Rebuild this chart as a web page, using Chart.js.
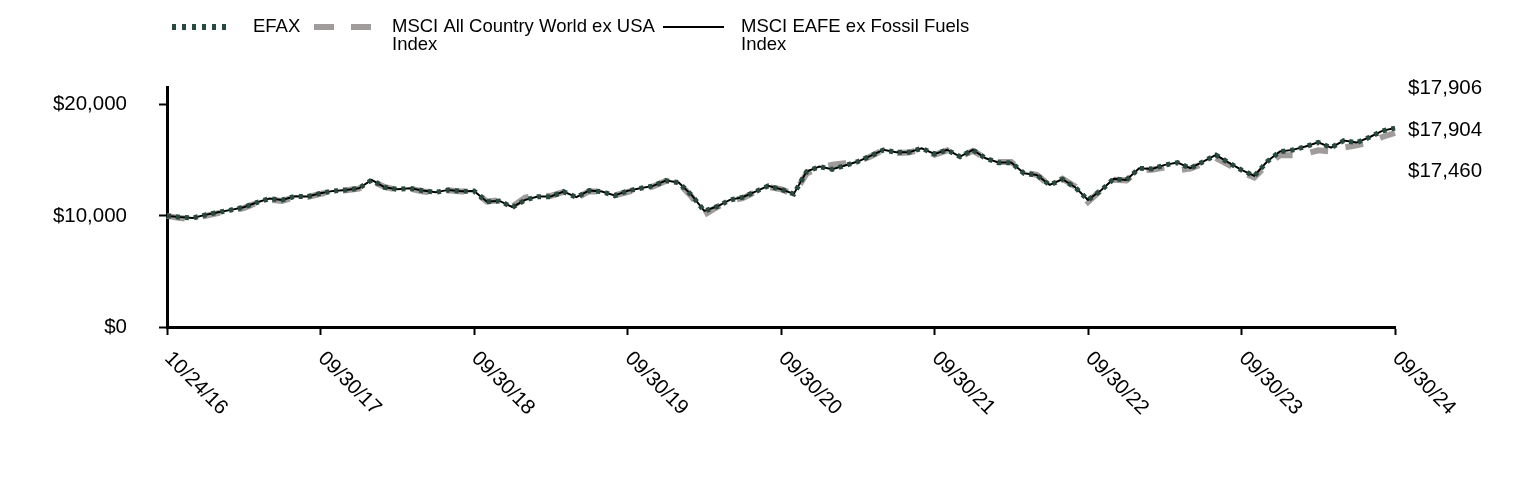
<!DOCTYPE html>
<html>
<head>
<meta charset="utf-8">
<script src="https://cdn.jsdelivr.net/npm/chart.js@4.4.0/dist/chart.umd.min.js"></script>
<style>
  body { margin: 0; background: #fff; }
  #growthChart { display: block; }
</style>
</head>
<body>
<canvas id="growthChart" width="1524" height="480"></canvas>
<script>
const dates = [
  "10/24/16", "10/31/16", "11/30/16", "12/31/16",
  "01/31/17", "02/28/17", "03/31/17", "04/30/17", "05/31/17", "06/30/17", "07/31/17", "08/31/17", "09/30/17", "10/31/17", "11/30/17", "12/31/17",
  "01/31/18", "02/28/18", "03/31/18", "04/30/18", "05/31/18", "06/30/18", "07/31/18", "08/31/18", "09/30/18", "10/31/18", "11/30/18", "12/31/18",
  "01/31/19", "02/28/19", "03/31/19", "04/30/19", "05/31/19", "06/30/19", "07/31/19", "08/31/19", "09/30/19", "10/31/19", "11/30/19", "12/31/19",
  "01/31/20", "02/29/20", "03/31/20", "04/30/20", "05/31/20", "06/30/20", "07/31/20", "08/31/20", "09/30/20", "10/31/20", "11/30/20", "12/31/20",
  "01/31/21", "02/28/21", "03/31/21", "04/30/21", "05/31/21", "06/30/21", "07/31/21", "08/31/21", "09/30/21", "10/31/21", "11/30/21", "12/31/21",
  "01/31/22", "02/28/22", "03/31/22", "04/30/22", "05/31/22", "06/30/22", "07/31/22", "08/31/22", "09/30/22", "10/31/22", "11/30/22", "12/31/22",
  "01/31/23", "02/28/23", "03/31/23", "04/30/23", "05/31/23", "06/30/23", "07/31/23", "08/31/23", "09/30/23", "10/31/23", "11/30/23", "12/31/23",
  "01/31/24", "02/29/24", "03/31/24", "04/30/24", "05/31/24", "06/30/24", "07/31/24", "08/31/24", "09/30/24"
];

const efax = [
  10000, 9880, 9810, 10080, 10320, 10530, 10770, 11200, 11550, 11430, 11760, 11730, 12030,
  12240, 12330, 12480, 13230, 12570, 12390, 12480, 12270, 12120, 12330, 12210, 12240,
  11280, 11340, 10770, 11430, 11730, 11730, 12180, 11670, 12270, 12180, 11820, 12240,
  12480, 12690, 13170, 12990, 11880, 10440, 10830, 11430, 11670, 12180, 12690, 12390,
  11970, 13980, 14430, 14190, 14520, 14880, 15390, 15930, 15720, 15720, 16080, 15570,
  15930, 15330, 15930, 15180, 14790, 14790, 13830, 13680, 12780, 13290, 12570, 11430,
  12270, 13320, 13230, 14280, 14220, 14580, 14790, 14280, 14880, 15480, 14790, 14130,
  13590, 14880, 15780, 15930, 16230, 16620, 16140, 16770, 16590, 17070, 17640, 17904
];

const acwiExUsa = [
  10000, 9800, 9700, 10000, 10250, 10450, 10700, 11150, 11450, 11350, 11700, 11700, 11980,
  12200, 12300, 12450, 13150, 12600, 12350, 12450, 12200, 12100, 12300, 12200, 12200,
  11300, 11400, 10850, 11650, 11850, 11800, 12150, 11600, 12200, 12200, 11850, 12150,
  12400, 12650, 13150, 12950, 11750, 10100, 10800, 11350, 11600, 12150, 12600, 12400,
  11950, 13800, 14350, 14600, 14750, 14900, 15350, 15950, 15650, 15700, 16000, 15500,
  15900, 15300, 15850, 15200, 14850, 14850, 13900, 13700, 12750, 13350, 12650, 11250,
  12300, 13250, 13200, 14100, 14150, 14350, 14100, 14250, 14700, 15200, 14600, 13950,
  13450, 14600, 15450, 15450, 15600, 15900, 15800, 16150, 16350, 16600, 17100, 17460
];

const eafeExFossil = [
  10000, 9890, 9820, 10090, 10330, 10540, 10780, 11210, 11560, 11440, 11770, 11740, 12040,
  12250, 12340, 12490, 13240, 12580, 12400, 12490, 12280, 12130, 12340, 12220, 12250,
  11290, 11350, 10780, 11440, 11740, 11740, 12190, 11680, 12280, 12190, 11830, 12250,
  12490, 12700, 13180, 13000, 11890, 10450, 10840, 11440, 11680, 12190, 12700, 12400,
  11980, 13990, 14440, 14200, 14530, 14890, 15400, 15940, 15730, 15730, 16090, 15580,
  15940, 15340, 15940, 15190, 14800, 14800, 13840, 13690, 12790, 13300, 12580, 11440,
  12280, 13330, 13240, 14290, 14230, 14590, 14800, 14290, 14890, 15490, 14800, 14140,
  13600, 14890, 15790, 15940, 16240, 16630, 16150, 16780, 16600, 17080, 17650, 17906
];

const seriesNames = ["EFAX", "MSCI All Country World ex USA Index", "MSCI EAFE ex Fossil Fuels Index"];
const yTicks = [0, 10000, 20000];

const FONT = "'Liberation Sans', Arial, sans-serif";
const GREEN = "#284a3c";
const GRAY = "#a19c9c";

Chart.defaults.font.family = FONT;
Chart.defaults.color = "#000";

const money = (v) => "$" + Math.round(v).toLocaleString("en-US");

// legend drawn by hand so the long names wrap like the original
const legendPlugin = {
  id: "customLegend",
  afterDraw(chart) {
    const ctx = chart.ctx;
    ctx.save();
    ctx.font = "18.5px " + FONT;
    ctx.fillStyle = "#000";
    ctx.textBaseline = "middle";
    ctx.lineCap = "butt";

    const items = [
      { x1: 172, x2: 230, tx: 253, color: GREEN, width: 6, dash: [4, 6], lines: ["EFAX"] },
      { x1: 314, x2: 372, tx: 392, color: GRAY, width: 6, dash: [20, 17], lines: ["MSCI All Country World ex USA", "Index"] },
      { x1: 663, x2: 724, tx: 741, color: "#000", width: 2, dash: [], lines: ["MSCI EAFE ex Fossil Fuels", "Index"] },
    ];
    items.forEach((it) => {
      ctx.beginPath();
      ctx.setLineDash(it.dash);
      ctx.strokeStyle = it.color;
      ctx.lineWidth = it.width;
      ctx.moveTo(it.x1, 27);
      ctx.lineTo(it.x2, 27);
      ctx.stroke();
      it.lines.forEach((t, k) => ctx.fillText(t, it.tx, 27 + k * 18));
    });
    ctx.restore();
  },
};

// x labels run downward to the right from each tick, ending values sit to the right
const labelsPlugin = {
  id: "extraLabels",
  afterDraw(chart) {
    const ctx = chart.ctx;
    const xs = chart.scales.x;
    const ys = chart.scales.y;
    ctx.save();
    ctx.font = "20.5px " + FONT;
    ctx.fillStyle = "#000";
    ctx.textAlign = "left";
    ctx.textBaseline = "top";
    dates.forEach((d, i) => {
      if (i % 12 !== 0) return;
      const x = xs.getPixelForValue(i);
      ctx.save();
      ctx.translate(x + 8, xs.top + 21);
      ctx.rotate(Math.PI / 4);
      ctx.fillText(d, 0, 0);
      ctx.restore();
    });

    const ends = chart.data.datasets.map((ds) => ds.data[ds.data.length - 1]).sort((a, b) => b - a);
    const mid = ys.getPixelForValue(ends[1]) + 2;
    ctx.textBaseline = "middle";
    ends.forEach((v, k) => ctx.fillText(money(v), 1408, mid + (k - 1) * 41.5));
    ctx.restore();
  },
};

const ctx = document.getElementById("growthChart").getContext("2d");
new Chart(ctx, {
  type: "line",
  data: {
    labels: dates,
    datasets: [
      {
        label: seriesNames[0],
        data: efax,
        borderColor: GREEN,
        borderWidth: 5,
        borderDash: [4, 5],
        order: 0,
      },
      {
        label: seriesNames[2],
        data: eafeExFossil,
        borderColor: "#000",
        borderWidth: 2,
        order: 1,
      },
      {
        label: seriesNames[1],
        data: acwiExUsa,
        borderColor: GRAY,
        borderWidth: 6,
        borderDash: [18, 18],
        order: 2,
      },
    ],
  },
  options: {
    responsive: false,
    animation: false,
    events: [],
    layout: { padding: { top: 87, right: 129, left: 0, bottom: 0 } },
    elements: {
      point: { radius: 0 },
      line: { tension: 0, borderCapStyle: "butt", fill: false },
    },
    plugins: {
      legend: { display: false },
      tooltip: { enabled: false },
    },
    scales: {
      x: {
        type: "category",
        offset: false,
        border: { color: "#000", width: 3 },
        grid: {
          drawOnChartArea: false,
          drawTicks: true,
          tickLength: 8,
          tickWidth: 2,
          tickColor: (c) => (c.index % 12 === 0 ? "#000" : "rgba(0,0,0,0)"),
        },
        ticks: { display: false, autoSkip: false },
        afterFit: (scale) => { scale.height = 153; },
      },
      y: {
        min: 0,
        max: 21600,
        border: { color: "#000", width: 3 },
        grid: {
          drawOnChartArea: false,
          drawTicks: true,
          tickLength: 8,
          tickWidth: 2,
          tickColor: "#000",
        },
        ticks: {
          stepSize: 10000,
          padding: 32,
          font: { size: 20.5 },
          color: "#000",
          callback: (v) => money(v),
        },
        afterBuildTicks: (scale) => {
          scale.ticks = yTicks.map((v) => ({ value: v }));
        },
        afterFit: (scale) => { scale.width = 167; },
      },
    },
  },
  plugins: [legendPlugin, labelsPlugin],
});
</script>
</body>
</html>
